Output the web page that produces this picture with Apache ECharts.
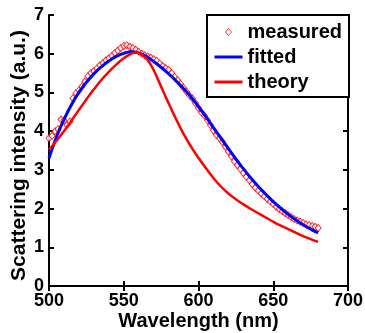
<!DOCTYPE html>
<html>
<head>
<meta charset="utf-8">
<script src="https://cdn.jsdelivr.net/npm/echarts@6/dist/echarts.min.js"></script>
<style>
html,body{margin:0;padding:0;background:#fff;}
#c{width:365px;height:333px;}
</style>
</head>
<body>
<div id="c"></div>
<script>
// Measured data (every 2 nm)
const measuredX = [500,502,504,506,508,510,512,514,516,518,520,522,524,526,528,530,532,534,536,538,540,542,544,546,548,550,552,554,556,558,560,562,564,566,568,570,572,574,576,578,580,582,584,586,588,590,592,594,596,598,600,602,604,606,608,610,612,614,616,618,620,622,624,626,628,630,632,634,636,638,640,642,644,646,648,650,652,654,656,658,660,662,664,666,668,670,672,674,676,678,680];
const measuredY = [3.82,3.88,4.00,4.05,4.30,4.28,4.15,4.25,4.85,4.98,5.05,5.15,5.28,5.42,5.50,5.55,5.62,5.70,5.76,5.83,5.88,5.94,6.02,6.08,6.15,6.20,6.22,6.18,6.15,6.10,6.05,6.00,5.96,5.93,5.90,5.86,5.82,5.75,5.68,5.63,5.58,5.50,5.40,5.32,5.22,5.12,5.02,4.92,4.84,4.72,4.60,4.48,4.40,4.28,4.15,4.02,3.90,3.82,3.72,3.60,3.47,3.35,3.22,3.12,3.02,2.92,2.82,2.73,2.63,2.54,2.47,2.39,2.32,2.25,2.18,2.12,2.05,1.99,1.93,1.88,1.83,1.78,1.73,1.69,1.66,1.63,1.59,1.57,1.55,1.53,1.50];

// Fitted curve
const fittedX = [500,505,510,515,520,525,530,535,540,545,550,555,560,565,570,575,580,585,590,595,600,605,610,615,620,625,630,635,640,645,650,655,660,665,670,675,680];
const fittedY = [3.30,3.85,4.30,4.68,5.00,5.26,5.48,5.66,5.81,5.93,6.01,6.05,6.02,5.93,5.80,5.65,5.48,5.30,5.10,4.88,4.63,4.37,4.09,3.82,3.55,3.28,3.03,2.79,2.57,2.37,2.18,2.01,1.85,1.71,1.58,1.47,1.37];

// Theory curve
const theoryX = [500,505,510,515,520,525,530,535,540,545,550,555,558,561,564,567,570,575,580,585,590,595,600,605,610,615,620,625,630,635,640,645,650,655,660,665,670,675,680];
const theoryY = [3.52,3.75,4.00,4.27,4.55,4.82,5.08,5.32,5.53,5.72,5.88,6.00,6.03,6.00,5.92,5.78,5.58,5.15,4.72,4.31,3.93,3.60,3.31,3.04,2.79,2.57,2.39,2.24,2.11,1.99,1.88,1.77,1.66,1.56,1.47,1.38,1.29,1.21,1.14];

const xTicks = [500,550,600,650,700];
const yTicks = [0,1,2,3,4,5,6,7];

const seriesNames = ['measured','fitted','theory'];

const pair = (xs, ys) => xs.map((x, i) => [x, ys[i]]);
const FONT = "'Liberation Sans', Arial, sans-serif";

const chart = echarts.init(document.getElementById('c'), null, {renderer: 'canvas'});

const axisLineStyle = {show: true, lineStyle: {color: '#000', width: 2}};
const tickStyle = {show: true, inside: true, length: 5, lineStyle: {color: '#000', width: 2}};
const noSymbol = {color: 'rgba(0,0,0,0)', borderWidth: 0};
// small diamond centred in a 28x7 legend icon box
const diamondIcon = 'path://M0,0L3,3.5L0,7L-3,3.5ZM-14,0M14,7';

chart.setOption({
  animation: false,
  backgroundColor: '#fff',
  grid: {left: 49, right: 17, top: 15, bottom: 47, containLabel: false, outerBoundsMode: 'none'},
  legend: {
    data: [
      {name: seriesNames[0], icon: diamondIcon, itemStyle: {color: '#fff', borderColor: '#ff0000', borderWidth: 1}},
      {name: seriesNames[1], itemStyle: noSymbol, lineStyle: {width: 3, color: '#0000ff'}},
      {name: seriesNames[2], itemStyle: noSymbol, lineStyle: {width: 3, color: '#ff0000'}}
    ],
    orient: 'vertical',
    left: 207, top: 15,
    backgroundColor: '#fff',
    borderColor: '#000', borderWidth: 2, borderRadius: 0,
    padding: [7, 7, 5, 6],
    itemWidth: 28, itemHeight: 7, itemGap: 5,
    symbolKeepAspect: false,
    textStyle: {fontFamily: FONT, fontWeight: 'bold', fontSize: 20, color: '#000', lineHeight: 20},
    z: 10
  },
  xAxis: [{
    type: 'value', min: xTicks[0], max: xTicks[xTicks.length-1], interval: 50,
    name: 'Wavelength (nm)', nameLocation: 'middle', nameGap: 25, nameMoveOverlap: false,
    nameTextStyle: {fontFamily: FONT, fontWeight: 'bold', fontSize: 20, color: '#000'},
    axisLine: axisLineStyle, axisTick: tickStyle,
    axisLabel: {fontFamily: FONT, fontWeight: 'bold', fontSize: 18, color: '#000', margin: 6},
    splitLine: {show: false}
  }, {
    type: 'value', position: 'top', min: xTicks[0], max: xTicks[xTicks.length-1], interval: 50,
    axisLine: axisLineStyle, axisTick: tickStyle, axisLabel: {show: false}, splitLine: {show: false}
  }],
  yAxis: [{
    type: 'value', min: yTicks[0], max: yTicks[yTicks.length-1], interval: 1,
    name: 'Scattering intensity (a.u.)', nameLocation: 'middle', nameGap: 19, nameMoveOverlap: false,
    nameTextStyle: {fontFamily: FONT, fontWeight: 'bold', fontSize: 21, color: '#000', padding: [0, 10, 0, 0]},
    axisLine: axisLineStyle, axisTick: tickStyle,
    axisLabel: {fontFamily: FONT, fontWeight: 'bold', fontSize: 18, color: '#000', margin: 5},
    splitLine: {show: false}
  }, {
    type: 'value', position: 'right', min: yTicks[0], max: yTicks[yTicks.length-1], interval: 1,
    axisLine: axisLineStyle, axisTick: tickStyle, axisLabel: {show: false}, splitLine: {show: false}
  }],
  series: [{
    name: seriesNames[0], type: 'scatter',
    data: pair(measuredX, measuredY),
    symbol: 'diamond', symbolSize: [6, 7],
    itemStyle: {color: '#fff', borderColor: '#ff0000', borderWidth: 1},
    z: 2
  }, {
    name: seriesNames[1], type: 'line',
    data: pair(fittedX, fittedY),
    smooth: 0.5, symbol: 'none', showSymbol: false,
    lineStyle: {color: '#0000ff', width: 3},
    itemStyle: {color: '#0000ff'},
    z: 3
  }, {
    name: seriesNames[2], type: 'line',
    data: pair(theoryX, theoryY),
    smooth: 0.5, symbol: 'none', showSymbol: false,
    lineStyle: {color: '#ff0000', width: 2.5},
    itemStyle: {color: '#ff0000'},
    z: 3
  }]
});
</script>
</body>
</html>
